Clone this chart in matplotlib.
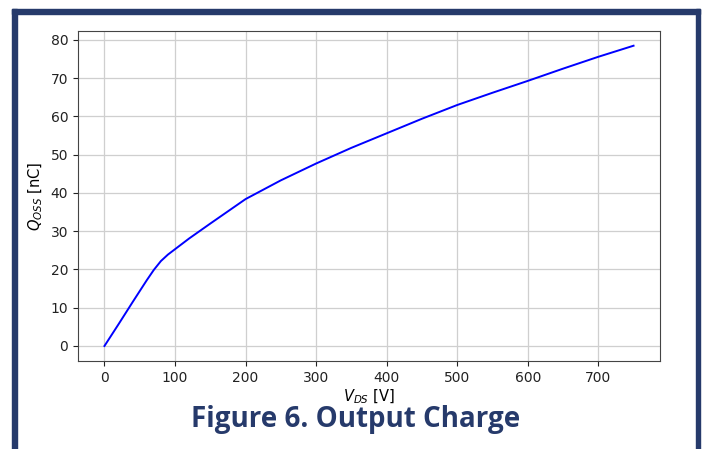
import numpy as np
import matplotlib
matplotlib.use("Agg")
import matplotlib.pyplot as plt
from matplotlib.patches import Rectangle

# Output charge vs drain-source voltage
v_ds = [0, 20, 40, 60, 70, 80, 90, 100, 120, 150, 200, 250, 300, 350, 400,
        450, 500, 550, 600, 650, 700, 750]
q_oss = [0, 5.7, 11.5, 17.2, 19.9, 22.2, 23.9, 25.3, 28.1, 32.0, 38.4, 43.3,
         47.7, 51.8, 55.6, 59.4, 63.0, 66.2, 69.3, 72.5, 75.6, 78.5]

navy = "#263a6b"

fig = plt.figure(figsize=(7.05, 4.49), dpi=100)
W, H = 705, 449

# navy frame (top, left, right)
def px_rect(x0, y0, x1, y1):
    fig.patches.append(Rectangle((x0 / W, 1 - y1 / H), (x1 - x0) / W, (y1 - y0) / H,
                                 transform=fig.transFigure, color=navy, zorder=0))

px_rect(12, 9, 700, 13.5)
px_rect(12, 9, 16.5, 449)
px_rect(695.5, 9, 700, 449)

ax = fig.add_axes([78 / W, 1 - 361 / H, 582 / W, 330.3 / H])
ax.plot(v_ds, q_oss, color="#0000ff", lw=1.4)
ax.grid(True, color="#cfcfcf", lw=0.9)
ax.set_xticks([0, 100, 200, 300, 400, 500, 600, 700])
ax.set_yticks([0, 10, 20, 30, 40, 50, 60, 70, 80])
ax.tick_params(labelsize=10, colors="#222222")
for s in ax.spines.values():
    s.set_color("#444444")
ax.set_xlabel("$V_{DS}$ [V]", fontsize=10.5, labelpad=2)
ax.set_ylabel("$Q_{OSS}$ [nC]", fontsize=10.5, labelpad=4)

fig.text(356 / W, 1 - 419 / H, "Figure 6. Output Charge", color=navy,
         fontsize=20, fontweight="bold", family="Open Sans",
         ha="center", va="center")

fig.savefig("out.png", dpi=100)
